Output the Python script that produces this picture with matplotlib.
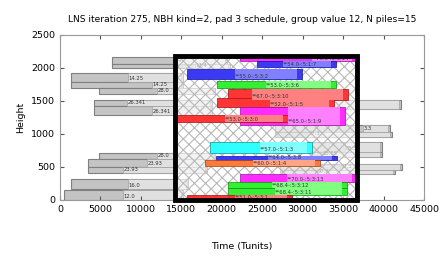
import matplotlib
matplotlib.use("Agg")
import matplotlib.pyplot as plt
from matplotlib.patches import Rectangle

# fixed (grey) piles: start, split, end, bottom, height, label
grey_start = [6430, 6430, 1360, 1360, 4820, 4200, 4200, 4820, 3460, 3460, 1360, 490,
              26580, 26580, 31150, 31150, 27200, 27200, 25960]
grey_mid = [13970, 16690, 8410, 11370, 11990, 8280, 11370, 11990, 10760, 7790, 8410, 7790,
            37460, 30660, 35230, 32390, 34620, 31770, 29670]
grey_end = [20650, 21020, 15200, 15200, 19160, 18790, 18790, 19160, 18170, 18170, 15820, 15200,
            40800, 41050, 39810, 39810, 42280, 41420, 42160]
grey_bottom = [2061, 2000, 1788, 1697, 1606, 1424, 1288, 621, 500, 409, 167, 0,
               1030, 955, 727, 652, 455, 394, 1379]
grey_height = [106, 61, 136, 91, 91, 91, 136, 91, 121, 91, 151, 152,
               106, 75, 152, 75, 91, 61, 136]
grey_label = ["3.4", "17.4", "14.25", "14.25", "28.0", "26.341", "26.341", "28.0", "23.93", "23.93",
              "16.0", "12.0", "3.3", "97.3", "85.5", "85.55", "97.3", "97.3", ""]

# piles of the neighbourhood (coloured)
pile_start = [22250, 24350, 15700, 19410, 20770, 19410, 22250, 14340,
              18540, 19290, 17930, 22250, 20770, 20770, 15700]
pile_mid = [31150, 27570, 21640, 25470, 23740, 25960, 28190, 20400,
            24730, 25710, 23860, 28060, 26210, 26580, 21640]
pile_end = [36710, 34120, 29920, 34120, 35600, 33870, 35230, 28190,
            31150, 34240, 32140, 36710, 35480, 35480, 28680]
pile_bottom = [2106, 2015, 1833, 1697, 1515, 1409, 1136, 1182,
               712, 606, 515, 273, 182, 76, 0]
pile_height = [76, 91, 152, 106, 167, 136, 273, 106,
               167, 61, 91, 121, 91, 106, 76]
pile_label = ["**70.0-:5:3:14", "**54.0-:5:1:7", "**55.0-:5:3:2", "**53.0-:5:3:6",
              "**67.0-:5:3:10", "**52.0-:5:1:5", "**65.0-:5:1:9", "**53.0-:5:3:0",
              "**57.0-:5:1:3", "**64.0-:5:3:8", "**60.0-:5:1:4", "**70.0-:5:3:13",
              "**68.4-:5:3:12", "**68.4-:5:3:11", "**51.0-:5:3:1"]
pile_kind = ["m", "b", "b", "g", "r", "r", "m", "r", "c", "b", "o", "m", "g", "g", "r"]

# window of the neighbourhood
win_x = [14200, 36700]
win_y = [0, 2180]

dark = {"r": "#ff3535", "b": "#3a3af5", "g": "#33f033", "m": "#ff2bff", "c": "#30ffff", "o": "#ff7a3a"}
light = {"r": "#ff8080", "b": "#8080ff", "g": "#80ff80", "m": "#ff80ff", "c": "#80ffff", "o": "#ffa585"}
edge = {"r": "#a01010", "b": "#1010a0", "g": "#109010", "m": "#a010a0", "c": "#109090", "o": "#a04010"}
cap = 600

fig = plt.figure(figsize=(4.42, 2.65), dpi=100)
ax = fig.add_axes([0.1357, 0.2453, 0.8236, 0.6227])

for s, m, e, b, h, lab in zip(grey_start, grey_mid, grey_end, grey_bottom, grey_height, grey_label):
    ax.add_patch(Rectangle((s, b), e - s, h, facecolor="#c4c4c4", edgecolor="#808080", lw=0.8, zorder=1))
    ax.add_patch(Rectangle((m, b), e - m - 300, h, facecolor="#e0e0e0", edgecolor="#a0a0a0", lw=0.5, zorder=1.1))
    ax.text(m + 100, b + h * 0.1, lab, fontsize=3.8, color="#333333", va="bottom", ha="left", zorder=1.2)

# hatched window
plt.rcParams["hatch.linewidth"] = 0.8
ax.add_patch(Rectangle((win_x[0], win_y[0]), win_x[1] - win_x[0], win_y[1] - win_y[0],
                       facecolor=(1, 1, 1, 0.6), edgecolor="#b8b8b8", hatch="xxx", lw=0, zorder=2))

for s, m, e, b, h, lab, k in zip(pile_start, pile_mid, pile_end, pile_bottom, pile_height, pile_label, pile_kind):
    ax.add_patch(Rectangle((s, b), e - s, h, facecolor=dark[k], edgecolor=edge[k], lw=0.5, zorder=3))
    ax.add_patch(Rectangle((m, b), e - m - cap, h, facecolor=light[k], edgecolor="none", zorder=3.1))
    ax.text(m, b + h * 0.05, lab, fontsize=3.8, color="#333333", va="bottom", ha="left", zorder=3.2)

ax.add_patch(Rectangle((win_x[0], win_y[0]), win_x[1] - win_x[0], win_y[1] - win_y[0],
                       facecolor="none", edgecolor="black", lw=3.5, zorder=5, clip_on=False))

ax.set_xlim(0, 45000)
ax.set_ylim(0, 2500)
ax.set_xticks(range(0, 45001, 5000))
ax.set_yticks(range(0, 2501, 500))
ax.tick_params(direction="in", top=True, right=True, labelsize=6.8, length=3, color="#555555")
for sp in ax.spines.values():
    sp.set_color("#999999")
ax.set_title("LNS iteration 275, NBH kind=2, pad 3 schedule, group value 12, N piles=15", fontsize=6.6, pad=9)
ax.set_xlabel("Time (Tunits)", fontsize=6.8, labelpad=20)
ax.set_ylabel("Height", fontsize=6.8)

fig.savefig("out.png", dpi=100)
